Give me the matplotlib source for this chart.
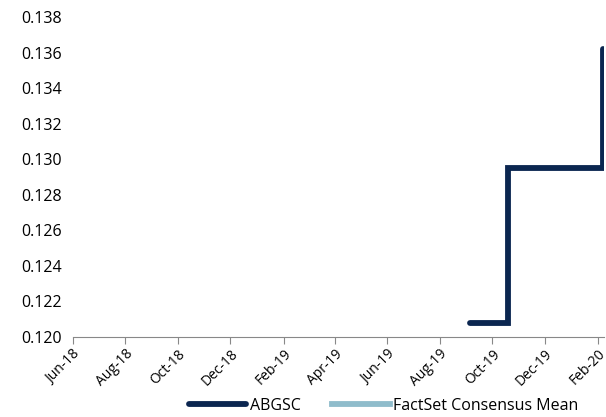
import matplotlib.pyplot as plt
import matplotlib.dates as mdates
import numpy as np
import pandas as pd

plt.rcParams['font.family'] = ['Open Sans', 'DejaVu Sans']

# Dividend estimates (step series)
abgsc_dates = pd.to_datetime(['2019-09-05', '2019-10-19', '2019-10-19', '2020-02-07', '2020-02-07'])
abgsc_values = [0.1208, 0.1208, 0.1295, 0.1295, 0.1362]
factset_dates = pd.to_datetime([])
factset_values = []

tick_dates = pd.date_range('2018-06-01', '2020-02-01', freq='2MS')

fig = plt.figure(figsize=(6.06, 4.17), dpi=100)
ax = fig.add_axes([0.12, 0.192, 0.877, 0.767])

ax.plot(abgsc_dates, abgsc_values, color='#0b2650', lw=4.2,
        solid_capstyle='round', solid_joinstyle='miter', label='ABGSC')
ax.plot(factset_dates, factset_values, color='#8fbccb', lw=4.2, label='FactSet Consensus Mean')

ax.set_ylim(0.120, 0.138)
ax.set_yticks(np.arange(0.120, 0.1381, 0.002))
ax.yaxis.set_major_formatter(plt.FuncFormatter(lambda v, p: f'{v:.3f}'))
ax.set_xlim(pd.Timestamp('2018-06-01'), pd.Timestamp('2020-02-08'))
ax.set_xticks(tick_dates)
ax.xaxis.set_major_formatter(mdates.DateFormatter('%b-%y'))

for s in ['top', 'right', 'left']:
    ax.spines[s].set_visible(False)
ax.spines['bottom'].set_color('#888888')
ax.tick_params(axis='y', length=0, labelsize=11.5, pad=8)
ax.tick_params(axis='x', length=5, color='#888888', labelsize=10, pad=2)
plt.setp(ax.get_xticklabels(), rotation=45, ha='right', rotation_mode='anchor')

ax.legend(loc='lower center', bbox_to_anchor=(0.585, -0.285), ncol=2, frameon=False,
          fontsize=11.5, handlelength=3.6, handletextpad=0.2, columnspacing=2.0)

fig.savefig('out.png', dpi=100)
